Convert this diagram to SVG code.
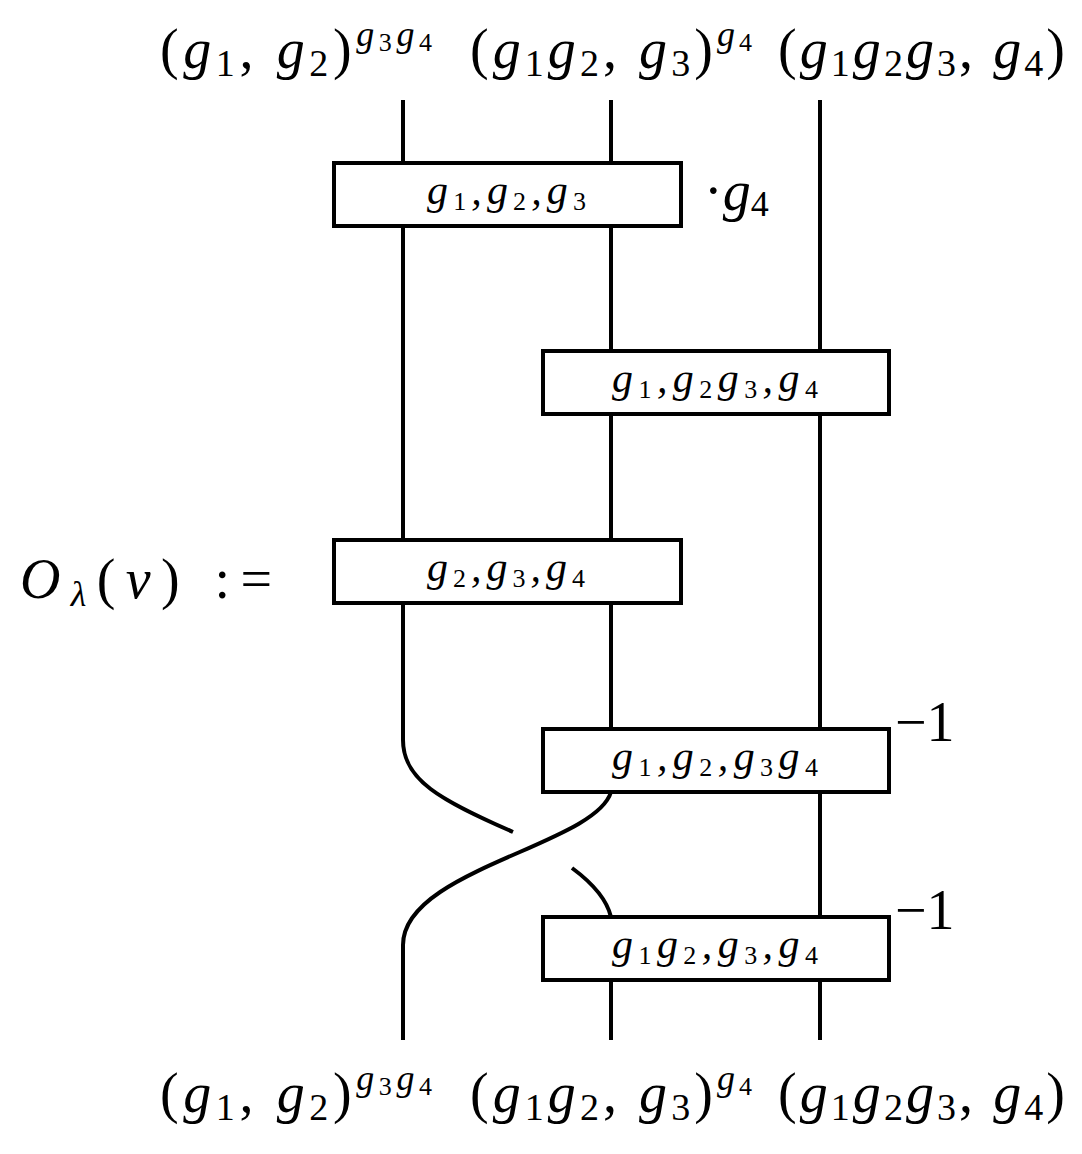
<svg xmlns="http://www.w3.org/2000/svg" width="1082" height="1154" viewBox="0 0 1082 1154">
<style>
.s{fill:none;stroke:#000;stroke-width:4}
.b{fill:#fff;stroke:#000;stroke-width:4}
.t{font-family:"Liberation Serif",serif;font-size:56px;fill:#000}
.bt{font-family:"Liberation Serif",serif;font-size:42px;font-style:italic;fill:#000}
.it{font-style:italic}
</style>
<rect width="1082" height="1154" fill="#fff"/>
<g id="connectors">
<path class="s" d="M403 100V163M611 100V163M820 100V351M403 226V540M611 226V351M820 414V729M611 414V540M403 603V740C403 780 440 800 513 832M611 603V729M820 792V917M611 792C595 845 403 870 403 945V1040M572 868C595 885 607 900 611 917M611 980V1040M820 980V1040"/>
</g>
<g id="n1"><rect class="b" x="334" y="163" width="347" height="63"/><text class="bt" x="427" y="204" textLength="159" lengthAdjust="spacing">g<tspan font-size="26" font-style="normal" dy="6">1</tspan><tspan dy="-6">,g</tspan><tspan font-size="26" font-style="normal" dy="6">2</tspan><tspan dy="-6">,g</tspan><tspan font-size="26" font-style="normal" dy="6">3</tspan></text></g>
<g id="n2"><rect class="b" x="543" y="351" width="346" height="63"/><text class="bt" x="612" y="392" textLength="206" lengthAdjust="spacing">g<tspan font-size="26" font-style="normal" dy="6">1</tspan><tspan dy="-6">,g</tspan><tspan font-size="26" font-style="normal" dy="6">2</tspan><tspan dy="-6">g</tspan><tspan font-size="26" font-style="normal" dy="6">3</tspan><tspan dy="-6">,g</tspan><tspan font-size="26" font-style="normal" dy="6">4</tspan></text></g>
<g id="n3"><rect class="b" x="334" y="540" width="347" height="63"/><text class="bt" x="427" y="581" textLength="158" lengthAdjust="spacing">g<tspan font-size="26" font-style="normal" dy="6">2</tspan><tspan dy="-6">,g</tspan><tspan font-size="26" font-style="normal" dy="6">3</tspan><tspan dy="-6">,g</tspan><tspan font-size="26" font-style="normal" dy="6">4</tspan></text></g>
<g id="n4"><rect class="b" x="543" y="729" width="346" height="63"/><text class="bt" x="612" y="770" textLength="206" lengthAdjust="spacing">g<tspan font-size="26" font-style="normal" dy="6">1</tspan><tspan dy="-6">,g</tspan><tspan font-size="26" font-style="normal" dy="6">2</tspan><tspan dy="-6">,g</tspan><tspan font-size="26" font-style="normal" dy="6">3</tspan><tspan dy="-6">g</tspan><tspan font-size="26" font-style="normal" dy="6">4</tspan></text></g>
<g id="n5"><rect class="b" x="543" y="917" width="346" height="63"/><text class="bt" x="612" y="958" textLength="206" lengthAdjust="spacing">g<tspan font-size="26" font-style="normal" dy="6">1</tspan><tspan dy="-6">g</tspan><tspan font-size="26" font-style="normal" dy="6">2</tspan><tspan dy="-6">,g</tspan><tspan font-size="26" font-style="normal" dy="6">3</tspan><tspan dy="-6">,g</tspan><tspan font-size="26" font-style="normal" dy="6">4</tspan></text></g>
<g id="labels">
<text class="t" x="704" y="210" font-size="54">·<tspan class="it">g</tspan><tspan font-size="36" dy="6">4</tspan></text>
<text class="t" x="895" y="741" font-size="38">−1</text>
<text class="t" x="895" y="929" font-size="38">−1</text>
<text class="t" x="20" y="598" font-size="58" textLength="252" lengthAdjust="spacing"><tspan class="it">O</tspan><tspan class="it" font-size="36" dy="8">λ</tspan><tspan dy="-8">(</tspan><tspan class="it">ν</tspan>) :=</text>
<text class="t" x="160" y="68" textLength="272" lengthAdjust="spacing">(<tspan class="it">g</tspan><tspan font-size="38" dy="8">1</tspan><tspan dy="-8">, </tspan><tspan class="it">g</tspan><tspan font-size="38" dy="8">2</tspan><tspan dy="-8">)</tspan><tspan class="it" font-size="36" dy="-22">g</tspan><tspan font-size="26" dy="5">3</tspan><tspan class="it" font-size="36" dy="-5">g</tspan><tspan font-size="26" dy="5">4</tspan></text>
<text class="t" x="470" y="68" textLength="282" lengthAdjust="spacing">(<tspan class="it">g</tspan><tspan font-size="38" dy="8">1</tspan><tspan class="it" dy="-8">g</tspan><tspan font-size="38" dy="8">2</tspan><tspan dy="-8">, </tspan><tspan class="it">g</tspan><tspan font-size="38" dy="8">3</tspan><tspan dy="-8">)</tspan><tspan class="it" font-size="36" dy="-22">g</tspan><tspan font-size="26" dy="5">4</tspan></text>
<text class="t" x="778" y="68" textLength="287" lengthAdjust="spacing">(<tspan class="it">g</tspan><tspan font-size="38" dy="8">1</tspan><tspan class="it" dy="-8">g</tspan><tspan font-size="38" dy="8">2</tspan><tspan class="it" dy="-8">g</tspan><tspan font-size="38" dy="8">3</tspan><tspan dy="-8">, </tspan><tspan class="it">g</tspan><tspan font-size="38" dy="8">4</tspan><tspan dy="-8">)</tspan></text>
<text class="t" x="160" y="1112" textLength="272" lengthAdjust="spacing">(<tspan class="it">g</tspan><tspan font-size="38" dy="8">1</tspan><tspan dy="-8">, </tspan><tspan class="it">g</tspan><tspan font-size="38" dy="8">2</tspan><tspan dy="-8">)</tspan><tspan class="it" font-size="36" dy="-22">g</tspan><tspan font-size="26" dy="5">3</tspan><tspan class="it" font-size="36" dy="-5">g</tspan><tspan font-size="26" dy="5">4</tspan></text>
<text class="t" x="470" y="1112" textLength="282" lengthAdjust="spacing">(<tspan class="it">g</tspan><tspan font-size="38" dy="8">1</tspan><tspan class="it" dy="-8">g</tspan><tspan font-size="38" dy="8">2</tspan><tspan dy="-8">, </tspan><tspan class="it">g</tspan><tspan font-size="38" dy="8">3</tspan><tspan dy="-8">)</tspan><tspan class="it" font-size="36" dy="-22">g</tspan><tspan font-size="26" dy="5">4</tspan></text>
<text class="t" x="778" y="1112" textLength="287" lengthAdjust="spacing">(<tspan class="it">g</tspan><tspan font-size="38" dy="8">1</tspan><tspan class="it" dy="-8">g</tspan><tspan font-size="38" dy="8">2</tspan><tspan class="it" dy="-8">g</tspan><tspan font-size="38" dy="8">3</tspan><tspan dy="-8">, </tspan><tspan class="it">g</tspan><tspan font-size="38" dy="8">4</tspan><tspan dy="-8">)</tspan></text>
</g>
</svg>
